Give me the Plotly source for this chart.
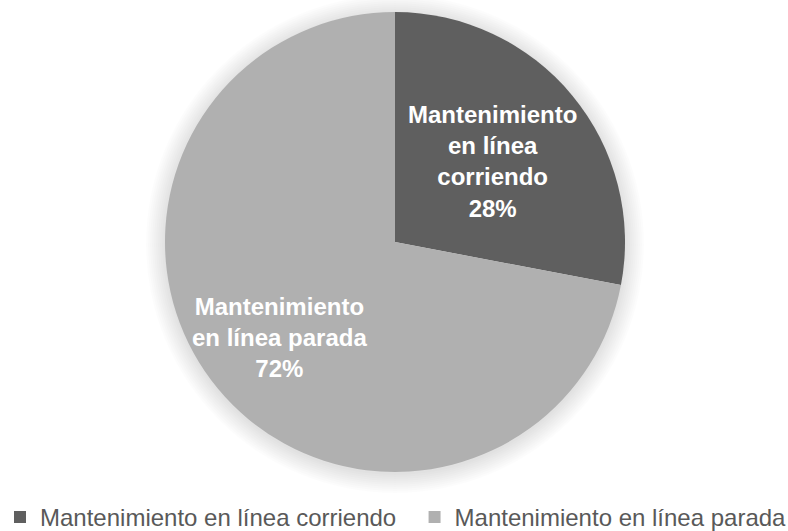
import math
import plotly.graph_objects as go

labels = ["Mantenimiento en línea corriendo", "Mantenimiento en línea parada"]
values = [28, 72]
slice_text = ["Mantenimiento<br>en línea<br>corriendo", "Mantenimiento<br>en línea parada"]
colors = ["#5f5f5f", "#b0b0b0"]
label_radius = [0.55, 0.65]  # fraction of pie radius where each data label sits
legend_pad = ["\u00a0\u00a0", ""]  # extra spacing after legend entries

W, H = 788, 531
cx, cy, r = 395, 242, 230
FONT = "Arial, Liberation Sans, sans-serif"

fig = go.Figure()
fig.add_trace(go.Pie(
    labels=[l + p for l, p in zip(labels, legend_pad)],
    values=values,
    textinfo="none",
    marker=dict(colors=colors, line=dict(width=0)),
    sort=False,
    direction="clockwise",
    rotation=0,
    domain=dict(x=[(cx - r) / W, (cx + r) / W], y=[1 - (cy + r) / H, 1 - (cy - r) / H]),
    showlegend=True,
    hoverinfo="label+percent",
))

# data labels placed along each slice's bisector, derived from the values
total = sum(values)
annotations = []
cum = 0
for v, txt, k in zip(values, slice_text, label_radius):
    mid = (cum + v / 2) / total * 2 * math.pi
    cum += v
    px = cx + k * r * math.sin(mid)
    py = cy - k * r * math.cos(mid)
    pct = round(100 * v / total)
    annotations.append(dict(
        x=px / W, y=1 - py / H, xref="paper", yref="paper",
        text=f"<b>{txt}<br>{pct}%</b>", showarrow=False,
        font=dict(family=FONT, size=24, color="white"),
        align="center", xanchor="center", yanchor="middle",
    ))

# soft shadow around the pie
shapes = []
for i in range(10):
    rr = r + 1 + i * 2.0
    shapes.append(dict(
        type="circle", xref="paper", yref="paper",
        xsizemode="pixel", ysizemode="pixel",
        xanchor=cx / W, yanchor=1 - (cy + 2) / H,
        x0=-rr, x1=rr, y0=-rr, y1=rr,
        fillcolor="rgba(0,0,0,0.010)", line=dict(width=0), layer="below",
    ))

fig.update_layout(
    width=W, height=H,
    margin=dict(l=0, r=0, t=0, b=0, autoexpand=False),
    paper_bgcolor="white",
    plot_bgcolor="white",
    shapes=shapes,
    annotations=annotations,
    legend=dict(
        orientation="h",
        x=0, xanchor="left",
        y=0.068, yanchor="top",
        font=dict(family=FONT, size=24, color="#595959"),
        traceorder="normal",
    ),
)

fig.write_html("out.html")
